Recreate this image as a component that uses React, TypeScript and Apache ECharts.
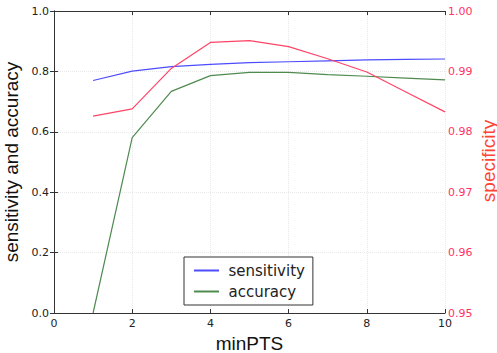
import React, { useEffect, useRef } from "react";
import * as echarts from "echarts";

const minPTS = [1, 2, 3, 4, 5, 6, 7, 8, 9, 10];
const sensitivity = [0.770, 0.801, 0.816, 0.823, 0.829, 0.832, 0.835, 0.838, 0.840, 0.841];
const accuracy = [0.0, 0.581, 0.734, 0.786, 0.797, 0.797, 0.789, 0.784, 0.778, 0.772];
const specificity = [0.9826, 0.9838, 0.9905, 0.9948, 0.9951, 0.9941, 0.9921, 0.9899, 0.9866, 0.9833];

const pair = (ys: number[]) => minPTS.map((x, i) => [x, ys[i]]);

export default function App() {
  const ref = useRef<HTMLDivElement>(null);
  useEffect(() => {
    if (!ref.current) return;
    const chart = echarts.init(ref.current, undefined, { renderer: "svg" });
    const tickFont = { fontFamily: "DejaVu Sans", fontSize: 11 };
    chart.setOption({
      animation: false,
      backgroundColor: "#ffffff",
      grid: { left: 54, right: 52, top: 11, bottom: 40, outerBoundsMode: "none", containLabel: false },
      legend: {
        data: ["sensitivity", "accuracy"],
        orient: "vertical",
        left: 184,
        top: 257,
        icon: "path://M0,0 L1,0 L1,0.08 L0,0.08 Z",
        itemWidth: 26,
        itemHeight: 2,
        itemGap: 6,
        padding: [6, 8, 6, 10],
        borderColor: "#333333",
        borderWidth: 1,
        borderRadius: 0,
        backgroundColor: "#ffffff",
        textStyle: { fontFamily: "DejaVu Sans", fontSize: 15, color: "#222222", padding: [0, 0, 0, 4] },
      },
      xAxis: [
        {
          type: "value",
          min: 0,
          max: 10,
          interval: 2,
          name: "minPTS",
          nameLocation: "middle",
          nameGap: 17,
          nameTextStyle: { fontFamily: "Liberation Sans", fontSize: 19, color: "#111" },
          axisLine: { lineStyle: { color: "#333", width: 1 } },
          axisTick: { inside: true, length: 4, lineStyle: { color: "#333" } },
          axisLabel: { ...tickFont, color: "#222", margin: 5 },
          splitLine: { show: true, lineStyle: { color: "#e8e8e8", type: "dotted" } },
        },
        {
          type: "value",
          position: "top",
          min: 0,
          max: 10,
          interval: 2,
          axisLine: { lineStyle: { color: "#333", width: 1 } },
          axisTick: { inside: true, length: 4, lineStyle: { color: "#333" } },
          axisLabel: { show: false },
          splitLine: { show: false },
        },
      ],
      yAxis: [
        {
          type: "value",
          min: 0,
          max: 1,
          interval: 0.2,
          name: "sensitivity and accuracy",
          nameLocation: "middle",
          nameGap: 32,
          nameTextStyle: { fontFamily: "Liberation Sans", fontSize: 19, color: "#111" },
          axisLine: { show: true, lineStyle: { color: "#333", width: 1 } },
          axisTick: { show: true, inside: true, length: 4, lineStyle: { color: "#333" } },
          axisLabel: { ...tickFont, color: "#222", margin: 5, formatter: (v: number) => v.toFixed(1) },
          splitLine: { show: true, lineStyle: { color: "#e8e8e8", type: "dotted" } },
        },
        {
          type: "value",
          min: 0.95,
          max: 1.0,
          interval: 0.01,
          position: "right",
          axisLine: { show: true, lineStyle: { color: "#333", width: 1 } },
          axisTick: { show: true, inside: true, length: 4, lineStyle: { color: "#333" } },
          axisLabel: { ...tickFont, color: "#ff3366", margin: 3, formatter: (v: number) => v.toFixed(2) },
          splitLine: { show: false },
        },
      ],
      graphic: [
        {
          type: "text",
          x: 488,
          y: 161,
          rotation: Math.PI / 2,
          style: {
            text: "specificity",
            fill: "#ff4433",
            font: "19px 'Liberation Sans'",
            align: "center",
            verticalAlign: "middle",
          },
        },
      ],
      series: [
        {
          name: "sensitivity",
          type: "line",
          data: pair(sensitivity),
          showSymbol: false,
          lineStyle: { color: "#4d4dff", width: 1.2 },
          itemStyle: { color: "#4d4dff" },
        },
        {
          name: "accuracy",
          type: "line",
          data: pair(accuracy),
          showSymbol: false,
          lineStyle: { color: "#4f8a4f", width: 1.2 },
          itemStyle: { color: "#4f8a4f" },
        },
        {
          name: "specificity",
          type: "line",
          yAxisIndex: 1,
          data: pair(specificity),
          showSymbol: false,
          lineStyle: { color: "#ff4466", width: 1.2 },
          itemStyle: { color: "#ff4466" },
        },
      ],
    });
    return () => chart.dispose();
  }, []);
  return <div ref={ref} style={{ width: 497, height: 353, position: "absolute", left: 0, top: 0 }} />;
}
